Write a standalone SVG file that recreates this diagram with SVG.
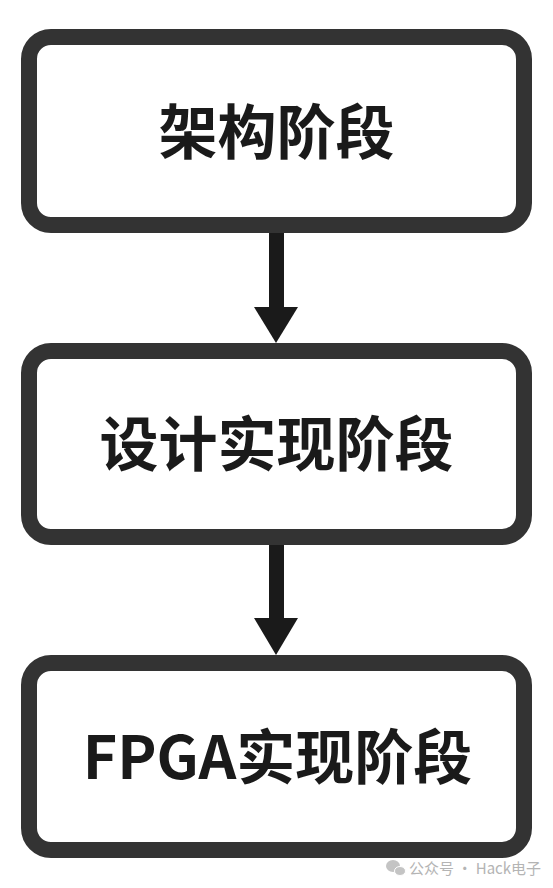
<svg xmlns="http://www.w3.org/2000/svg" width="553" height="888" viewBox="0 0 553 888">
<style>
.box{fill:#fff;stroke:#333;stroke-width:16}
.lbl{font-family:"Noto Sans CJK SC","Noto Sans",sans-serif;font-weight:bold;font-size:59px;fill:#1a1a1a;text-anchor:middle}
.arrow{fill:#1a1a1a}
.wm{font-family:"Noto Sans CJK SC","Noto Sans",sans-serif;font-size:15px;fill:#b4b4b4}
</style>
<rect width="553" height="888" fill="#fff"/>
<g id="connectors">
<g id="arrow1"><rect class="arrow" x="269" y="225" width="15" height="83"/><polygon class="arrow" points="254,307 298,307 276,343"/></g>
<g id="arrow2"><rect class="arrow" x="269" y="537" width="15" height="82"/><polygon class="arrow" points="254,618 298,618 276,655"/></g>
</g>
<g id="node1"><rect class="box" x="29" y="37" width="495" height="188" rx="22"/><text class="lbl" x="276.5" y="154">架构阶段</text></g>
<g id="node2"><rect class="box" x="29" y="351" width="495" height="186" rx="22"/><text class="lbl" x="276.5" y="466">设计实现阶段</text></g>
<g id="node3"><rect class="box" x="29" y="663" width="495" height="187" rx="22"/><text class="lbl" x="277.5" y="779">FPGA实现阶段</text></g>
<g id="watermark">
<ellipse cx="393" cy="866" rx="7" ry="6" fill="#c4c4c4"/>
<ellipse cx="400" cy="871" rx="5.5" ry="4.5" fill="#c4c4c4" stroke="#fff" stroke-width="1"/>
<text class="wm" x="409" y="874">公众号 · Hack电子</text>
</g>
</svg>
